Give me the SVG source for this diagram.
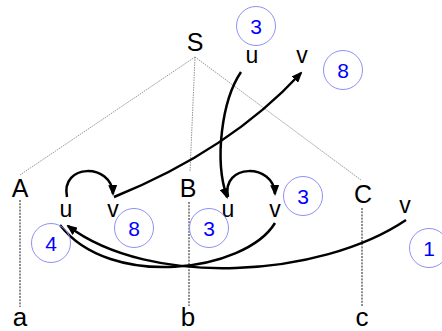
<svg xmlns="http://www.w3.org/2000/svg" width="442" height="331" viewBox="0 0 442 331">
<style>
text{font-family:"Liberation Sans",Arial,sans-serif;fill:#000;text-anchor:middle}
.cap{font-size:25px}
.low{font-size:26px}
.uv{font-size:23px}
.num{font-size:21px;fill:#0000ff}
.ring{fill:none;stroke:#8f8ff5;stroke-width:1}
.tree{fill:none;stroke:#7a7a7a;stroke-width:0.8;stroke-dasharray:1.5,1}
.proj{fill:none;stroke:#000;stroke-width:0.9;stroke-dasharray:2,1.2}
.arc{fill:none;stroke:#000;stroke-width:2.5}
</style>
<defs>
<marker id="ah" markerUnits="userSpaceOnUse" markerWidth="11" markerHeight="9" refX="9" refY="4.5" orient="auto">
<path d="M0,0 L11,4.5 L0,9 z" fill="#000"/>
</marker>
</defs>
<g id="tree-lines">
<path class="tree" d="M195,57 L20,175"/>
<path class="tree" d="M195,57 L190,172"/>
<path class="tree" d="M195,57 L361,180"/>
<path class="proj" d="M20,200 L20,307"/>
<path class="proj" d="M189,202 L189,306"/>
<path class="proj" d="M362,208 L362,307"/>
</g>
<g id="connectors">
<path class="arc" d="M241,72 C222,100 214,160 227,197" marker-end="url(#ah)"/>
<path class="arc" d="M114,197 Q230,150 301,73" marker-end="url(#ah)"/>
<path class="arc" d="M67,197 C60,163 112,163 113,194" marker-end="url(#ah)"/>
<path class="arc" d="M228,197 C221,163 274,163 275,194" marker-end="url(#ah)"/>
<path class="arc" d="M406,220 C320,278 150,288 68,226" marker-end="url(#ah)"/>
<path class="arc" d="M275,223 C245,272 110,290 60,225"/>
</g>
<g id="S"><text class="cap" x="195" y="51">S</text></g>
<g id="A"><text class="cap" x="20" y="197">A</text></g>
<g id="B"><text class="cap" x="188" y="197">B</text></g>
<g id="C"><text class="cap" x="363" y="203">C</text></g>
<g id="a"><text class="low" x="20" y="326">a</text></g>
<g id="b"><text class="low" x="188" y="326">b</text></g>
<g id="c"><text class="low" x="362" y="326">c</text></g>
<g id="S-u"><text class="uv" x="252" y="63">u</text></g>
<g id="S-v"><text class="uv" x="302" y="63">v</text></g>
<g id="A-u"><text class="uv" x="66" y="217">u</text></g>
<g id="A-v"><text class="uv" x="113" y="217">v</text></g>
<g id="B-u"><text class="uv" x="228" y="217">u</text></g>
<g id="B-v"><text class="uv" x="275" y="217">v</text></g>
<g id="C-v"><text class="uv" x="405" y="213">v</text></g>
<g id="w-S-u"><circle class="ring" cx="256" cy="26" r="19.5"/><text class="num" x="256" y="33.5">3</text></g>
<g id="w-S-v"><circle class="ring" cx="343" cy="70" r="19.5"/><text class="num" x="343" y="77.5">8</text></g>
<g id="w-A-u"><circle class="ring" cx="51" cy="243" r="19.5"/><text class="num" x="51" y="250.5">4</text></g>
<g id="w-A-v"><circle class="ring" cx="134" cy="228" r="19.5"/><text class="num" x="134" y="235.5">8</text></g>
<g id="w-B-u"><circle class="ring" cx="209" cy="228" r="19.5"/><text class="num" x="209" y="235.5">3</text></g>
<g id="w-B-v"><circle class="ring" cx="303" cy="196" r="19.5"/><text class="num" x="303" y="203.5">3</text></g>
<g id="w-C-v"><circle class="ring" cx="429" cy="248" r="19.5"/><text class="num" x="429" y="255.5">1</text></g>
</svg>
